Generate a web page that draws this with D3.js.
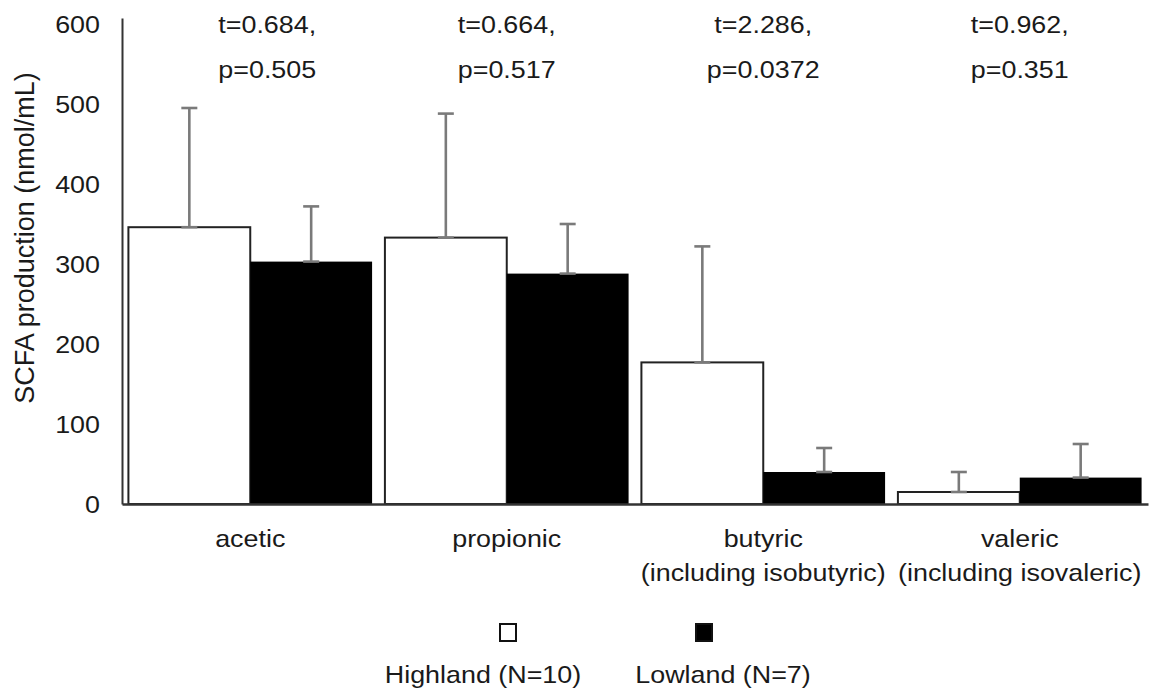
<!DOCTYPE html>
<html>
<head>
<meta charset="utf-8">
<script src="https://cdn.jsdelivr.net/npm/d3@7"></script>
<style>
  html, body { margin: 0; padding: 0; background: #fff; }
  svg { display: block; font-family: "Liberation Sans", Arial, sans-serif; }
</style>
</head>
<body>
<svg id="chart" width="1150" height="695"></svg>
<script>
// ---------------- data ----------------
const categories = ["acetic", "propionic", "butyric", "valeric"];
const categorySubLabels = ["", "", "(including isobutyric)", "(including isovaleric)"];
const seriesNames = ["Highland (N=10)", "Lowland (N=7)"];
const highlandMean = [346, 333, 177, 15];
const highlandSD   = [149, 155, 145, 25];
const lowlandMean  = [303, 288, 40, 33];
const lowlandSD    = [69, 62, 30, 42];
const tStats = ["t=0.684,", "t=0.664,", "t=2.286,", "t=0.962,"];
const pStats = ["p=0.505", "p=0.517", "p=0.0372", "p=0.351"];
const yTicks = [0, 100, 200, 300, 400, 500, 600];
const yTitle = "SCFA production (nmol/mL)";

// ---------------- layout ----------------
const svg = d3.select("#chart");
const axisX = 122, baseY = 504, topY = 18, rightX = 1148;
const SX = 1.12; // slight horizontal stretch of the reference text
const textColor = "#1a1a1a";

const y = d3.scaleLinear().domain([0, 607.5]).range([baseY, topY]);
const x = d3.scaleBand().domain(categories).range([axisX, rightX])
  .paddingInner(0.05).paddingOuter(0.025);
const xs = d3.scaleBand().domain(seriesNames).range([0, x.bandwidth()]).padding(0);

const fills = ["#ffffff", "#000000"];
const means = [highlandMean, lowlandMean];
const sds = [highlandSD, lowlandSD];

function stretch(sel) {
  sel.each(function () {
    const t = d3.select(this);
    const tx = +t.attr("x") || 0, ty = +t.attr("y") || 0;
    t.attr("transform", `translate(${tx},${ty}) scale(${SX},1) translate(${-tx},${-ty})`);
  });
}

// ---------------- bars ----------------
const rows = [];
categories.forEach((c, i) => {
  seriesNames.forEach((s, j) => rows.push({ c, s, j, v: means[j][i], e: sds[j][i] }));
});

const g = svg.append("g");
g.selectAll("rect.bar").data(rows).join("rect")
  .attr("class", "bar")
  .attr("x", d => x(d.c) + xs(d.s))
  .attr("y", d => y(d.v))
  .attr("width", xs.bandwidth())
  .attr("height", d => y(0) - y(d.v))
  .attr("fill", d => fills[d.j])
  .attr("stroke", d => d.j === 0 ? "#222" : "none")
  .attr("stroke-width", 2);

// ---------------- error bars ----------------
const capW = 16;
const eb = g.selectAll("g.err").data(rows).join("g").attr("class", "err")
  .attr("stroke", "#7a7a7a").attr("stroke-width", 2.6);
eb.append("line")
  .attr("x1", d => x(d.c) + xs(d.s) + xs.bandwidth() / 2)
  .attr("x2", d => x(d.c) + xs(d.s) + xs.bandwidth() / 2)
  .attr("y1", d => y(d.v)).attr("y2", d => y(d.v + d.e));
eb.append("line")
  .attr("x1", d => x(d.c) + xs(d.s) + xs.bandwidth() / 2 - capW / 2)
  .attr("x2", d => x(d.c) + xs(d.s) + xs.bandwidth() / 2 + capW / 2)
  .attr("y1", d => y(d.v + d.e)).attr("y2", d => y(d.v + d.e));
eb.append("line")
  .attr("x1", d => x(d.c) + xs(d.s) + xs.bandwidth() / 2 - capW / 2)
  .attr("x2", d => x(d.c) + xs(d.s) + xs.bandwidth() / 2 + capW / 2)
  .attr("y1", d => y(d.v)).attr("y2", d => y(d.v));

// ---------------- axes ----------------
const yAxis = svg.append("g").attr("transform", `translate(${axisX},0)`)
  .call(d3.axisLeft(y).tickValues(yTicks).tickSize(0).tickSizeOuter(0).tickPadding(22).tickFormat(d3.format("d")));
yAxis.select(".domain").attr("stroke", "#333").attr("stroke-width", 2);
yAxis.selectAll("text").attr("font-size", 24).attr("fill", textColor)
  .attr("font-family", "'Liberation Sans', Arial, sans-serif")
  .attr("dy", "0.36em").call(stretch);

const xAxis = svg.append("g").attr("transform", `translate(0,${baseY})`)
  .call(d3.axisBottom(x).tickSize(0).tickSizeOuter(0).tickFormat(""));
xAxis.select(".domain").attr("stroke", "#333").attr("stroke-width", 2.5);

// category labels (two lines)
const catG = svg.append("g").attr("font-size", 24).attr("fill", textColor).attr("text-anchor", "middle");
catG.selectAll("text.l1").data(categories).join("text").attr("class", "l1")
  .attr("x", d => x(d) + x.bandwidth() / 2).attr("y", baseY + 43).text(d => d).call(stretch);
catG.selectAll("text.l2").data(categories.map((c, i) => ({ c, t: categorySubLabels[i] })).filter(d => d.t))
  .join("text").attr("class", "l2")
  .attr("x", d => x(d.c) + x.bandwidth() / 2).attr("y", baseY + 77).text(d => d.t).call(stretch);

// t / p annotations
const annG = svg.append("g").attr("font-size", 24).attr("fill", textColor).attr("text-anchor", "middle");
annG.selectAll("text.t").data(categories).join("text").attr("class", "t")
  .attr("x", (d, i) => x(d) + x.bandwidth() / 2 + (i === 0 ? 17 : 0)).attr("y", 33)
  .text((d, i) => tStats[i]).call(stretch);
annG.selectAll("text.p").data(categories).join("text").attr("class", "p")
  .attr("x", (d, i) => x(d) + x.bandwidth() / 2 + (i === 0 ? 17 : 0)).attr("y", 78)
  .text((d, i) => pStats[i]).call(stretch);

// y title
svg.append("text")
  .attr("transform", `translate(34,${(y(0) + y(600)) / 2 - 26}) rotate(-90)`)
  .attr("text-anchor", "middle").attr("font-size", 27).attr("fill", textColor)
  .text(yTitle);

// ---------------- legend ----------------
const legend = svg.append("g").attr("transform", "translate(508,0)");
const legItems = legend.selectAll("g").data(seriesNames).join("g")
  .attr("transform", (d, i) => `translate(${i * 196},0)`);
legItems.append("rect")
  .attr("x", -8).attr("y", 624).attr("width", 16).attr("height", 17)
  .attr("fill", (d, i) => fills[i]).attr("stroke", "#111").attr("stroke-width", 2);
legItems.append("text")
  .attr("x", (d, i) => i === 0 ? -25 : 19).attr("y", 683)
  .attr("text-anchor", "middle").attr("font-size", 24).attr("fill", textColor)
  .text(d => d).call(stretch);
</script>
</body>
</html>
